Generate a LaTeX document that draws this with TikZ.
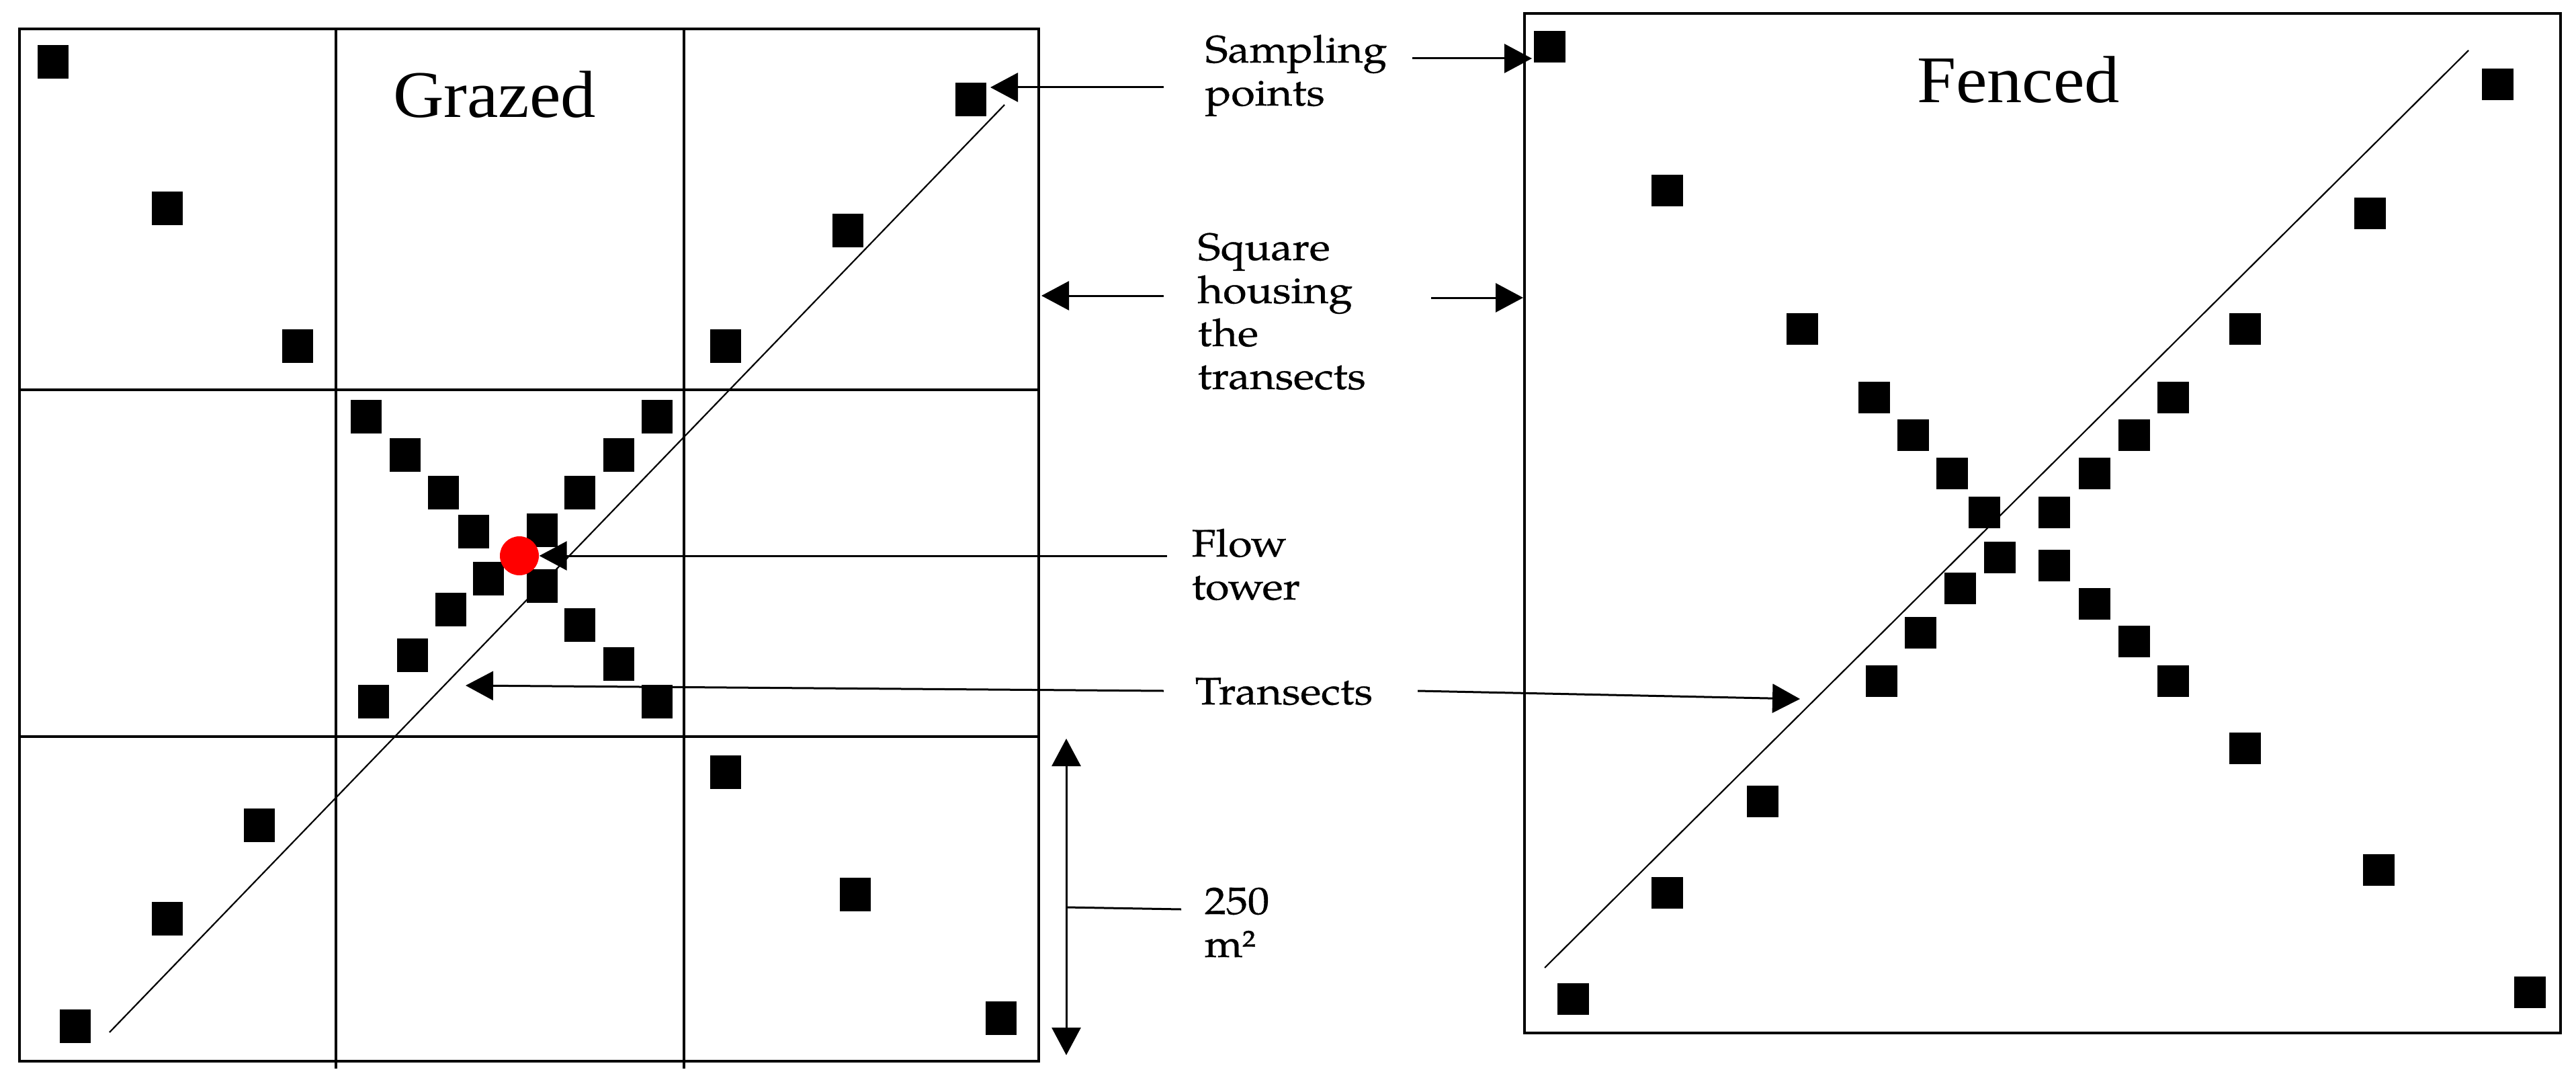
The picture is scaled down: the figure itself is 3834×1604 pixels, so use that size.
\documentclass[tikz,border=0pt]{standalone}
\usepackage{fontspec}
\usepackage{graphicx}
\usetikzlibrary{arrows.meta,shapes.geometric}
\setmainfont{Liberation Serif}
\newfontfamily\palfont[FakeBold=0.6]{TeX Gyre Pagella}
\newcommand\lbltxt[1]{\scalebox{1.13}[1]{\begin{tabular}[t]{@{}l@{}}#1\end{tabular}}}
\begin{document}
\begin{tikzpicture}[x=0.1mm,y=-0.1mm,
  boxframe/.style={line width=0.4mm},
  gridline/.style={line width=0.4mm},
  transect/.style={line width=0.22mm},
  gsq/.style={fill=black, draw=none, rectangle, minimum width=4.6mm, minimum height=5mm, inner sep=0pt},
  fsq/.style={fill=black, draw=none, rectangle, minimum size=4.7mm, inner sep=0pt},
  ttl/.style={font=\fontsize{28.2pt}{30pt}\selectfont, anchor=base, inner sep=0pt},
  lbltext/.style={font=\palfont\fontsize{16.2pt}{18.2pt}\selectfont, anchor=base west, inner sep=0pt},
  arr/.style={line width=0.3mm, -{Triangle[length=4.1mm,width=4.3mm]}},
  dbl/.style={line width=0.3mm, {Triangle[length=4.1mm,width=4.3mm]}-{Triangle[length=4.1mm,width=4.3mm]}},
  conn/.style={line width=0.3mm}]
\fill[white] (0,0) rectangle (3834,1604);
\useasboundingbox (0,0) rectangle (3834,1604);

% ---------- Grazed plot ----------
\draw[boxframe] (29,43) rectangle (1546,1579);
\draw[gridline] (500,43) -- (500,1590);
\draw[gridline] (1018,43) -- (1018,1590);
\draw[gridline] (29,580) -- (1546,580);
\draw[gridline] (29,1096) -- (1546,1096);
\coordinate (gdA) at (163,1536);
\coordinate (gdB) at (1495,156);
\draw[transect] (gdA) -- (gdB);
\node[ttl] (grazed) at (736,175) {\scalebox{1.055}[1]{Grazed}};
\foreach \x/\y [count=\i] in {79/92,249/310,443/515,1445/148,1262/343,1080/515,
  386/1228,249/1367,112/1527,1080/1149,1273/1331,1490/1515,
  545/620,603/677,660/733,705/791,727/861,671/907,614/975,556/1044,
  978/620,921/677,863/733,807/789,807/872,863/930,921/988,978/1044}
  \node[gsq] (g\i) at (\x,\y) {};
\node[circle, fill=red, draw=none, minimum size=5.8mm, inner sep=0pt] (tower) at (773,827) {};

% ---------- Fenced plot ----------
\draw[boxframe] (2269,20) rectangle (3811,1537);
\coordinate (fdA) at (2299,1440);
\coordinate (fdB) at (3674,75);
\draw[transect] (fdA) -- (fdB);
\node[ttl] (fenced) at (3004,153) {\scalebox{1.055}[1]{Fenced}};
\foreach \x/\y [count=\i] in {2306/70,2481/284,2682/489,2789/591,2847/647,2905/704,2953/762,
  2976/829,2917/875,2858/941,2800/1013,2623/1192,2481/1328,2341/1486,
  3717/126,3527/318,3341/489,3234/591,3176/647,3117/704,3057/762,
  3057/841,3117/898,3176/954,3234/1013,3341/1113,3540/1294,3765/1476}
  \node[fsq] (f\i) at (\x,\y) {};

% ---------- Labels ----------
\node[lbltext] (samp) at (1793,93) {\lbltxt{Sampling\\points}};
\node[lbltext] (housing) at (1782,387) {\lbltxt{Square\\housing\\the\\transects}};
\node[lbltext] (flow) at (1773,828) {\lbltxt{Flow\\tower}};
\node[lbltext] (trans) at (1778,1048) {\lbltxt{Transects}};
\node[lbltext] (dist) at (1792,1360) {\lbltxt{250\\m²}};

% ---------- Connectors ----------
\coordinate (sampL) at (1732,130);
\coordinate (sampLt) at (1474,130);
\coordinate (sampR) at (2102,87);
\coordinate (sampRt) at (2280,87);
\draw[arr] (sampL) -- (sampLt);
\draw[arr] (sampR) -- (sampRt);

\coordinate (houL) at (1732,440);
\coordinate (houLt) at (1550,440);
\coordinate (houR) at (2130,443);
\coordinate (houRt) at (2267,443);
\draw[arr] (houL) -- (houLt);
\draw[arr] (houR) -- (houRt);

\coordinate (flowL) at (1737,827);
\draw[arr] (flowL) -- (tower.east);

\coordinate (trL) at (1732,1028);
\coordinate (trLt) at (693,1020);
\coordinate (trR) at (2110,1028);
\coordinate (trRt) at (2679,1040);
\draw[arr] (trL) -- (trLt);
\draw[arr] (trR) -- (trRt);

\coordinate (dimT) at (1587,1099);
\coordinate (dimB) at (1587,1570);
\coordinate (dimM) at (1587,1350);
\coordinate (dimE) at (1758,1353);
\draw[dbl] (dimT) -- (dimB);
\draw[conn] (dimM) -- (dimE);
\end{tikzpicture}
\end{document}
